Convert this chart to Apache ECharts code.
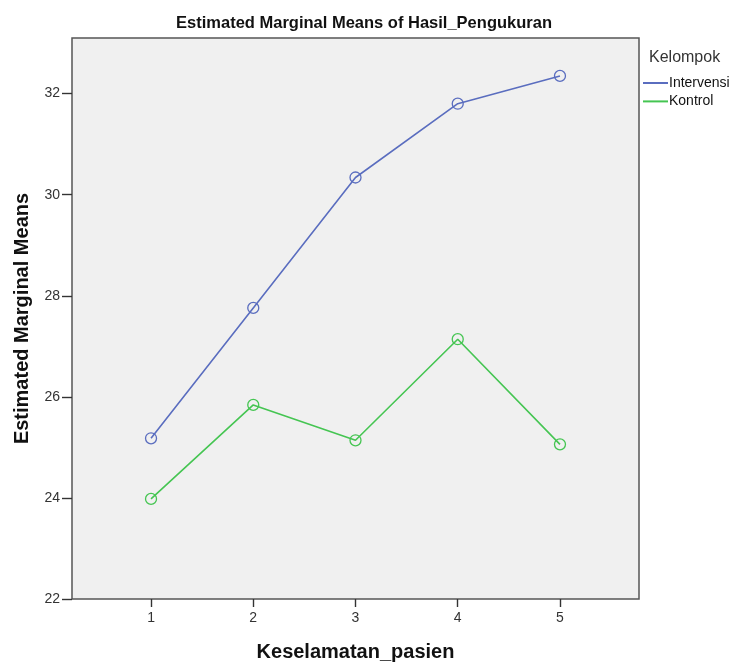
<!DOCTYPE html>
<html><head><meta charset="utf-8">
<script src="https://cdn.jsdelivr.net/npm/echarts@6/dist/echarts.min.js"></script>
<style>html,body{margin:0;padding:0;background:#fff}#c{width:736px;height:663px}</style>
</head><body><div id="c"></div>
<script>
var categories = [1, 2, 3, 4, 5];
var intervensi = [25.18, 27.76, 30.34, 31.80, 32.35];
var kontrol = [23.98, 25.84, 25.14, 27.14, 25.06];
var yTicks = [22, 24, 26, 28, 30, 32];
var seriesNames = ['Intervensi', 'Kontrol'];
var colors = ['#5a6dbf', '#45c552'];

function pairs(vals){ return categories.map(function(c,i){ return [c, vals[i]]; }); }
var font = 'Liberation Sans, Arial, sans-serif';
var chart = echarts.init(document.getElementById('c'));
function mk(name, vals, color){
  return {
    name: name, type: 'line', data: pairs(vals),
    symbol: 'circle', symbolSize: 11,
    lineStyle: {color: color, width: 1.6},
    itemStyle: {color: 'rgba(0,0,0,0)', borderColor: color, borderWidth: 1.3},
    emphasis: {disabled: true}, z: 3
  };
}
chart.setOption({
  animation: false,
  backgroundColor: '#fff',
  title: {text: 'Estimated Marginal Means of Hasil_Pengukuran', left: 359, textAlign: 'center', top: 10,
    textStyle: {fontFamily: font, fontSize: 16.5, fontWeight: 'bold', color: '#111'}},
  graphic: [{type: 'text', left: 649, top: 50, style: {text: 'Kelompok', fontFamily: font, fontSize: 16, fill: '#333'}}],
  legend: {
    orient: 'vertical', left: 643, top: 75, padding: 0, itemGap: 2.4, itemWidth: 25, itemHeight: 2,
    icon: 'rect', data: seriesNames.map(function(n,i){ return {name: n, itemStyle: {color: colors[i], borderWidth: 0}}; }),
    textStyle: {fontFamily: font, fontSize: 14, lineHeight: 16, color: '#111', padding: [0,0,0,-4]}
  },
  grid: {left: 72, right: 97, top: 38, bottom: 64, outerBoundsMode: 'none', containLabel: false,
    show: true, backgroundColor: '#f0f0f0', borderColor: '#555', borderWidth: 1.5},
  xAxis: {
    type: 'value', min: 0.227, max: 5.773,
    name: 'Keselamatan_pasien', nameLocation: 'middle', nameGap: 43,
    nameTextStyle: {fontFamily: font, fontSize: 20, fontWeight: 'bold', color: '#111'},
    axisLine: {show: false}, splitLine: {show: false},
    axisTick: {show: true, inside: false, length: 8, lineStyle: {color: '#333', width: 1.4}, customValues: categories},
    axisLabel: {customValues: categories, fontFamily: font, fontSize: 14, color: '#333', margin: 12}
  },
  yAxis: {
    type: 'value', min: 22, max: 33.1,
    name: 'Estimated Marginal Means', nameLocation: 'middle', nameGap: 40, nameRotate: 90,
    nameTextStyle: {fontFamily: font, fontSize: 20, fontWeight: 'bold', color: '#111'},
    axisLine: {show: false}, splitLine: {show: false},
    axisTick: {show: true, length: 10, lineStyle: {color: '#333', width: 1.4}, customValues: yTicks},
    axisLabel: {customValues: yTicks, fontFamily: font, fontSize: 14, color: '#333', margin: 12}
  },
  series: [mk(seriesNames[0], intervensi, colors[0]), mk(seriesNames[1], kontrol, colors[1])]
});
</script></body></html>
